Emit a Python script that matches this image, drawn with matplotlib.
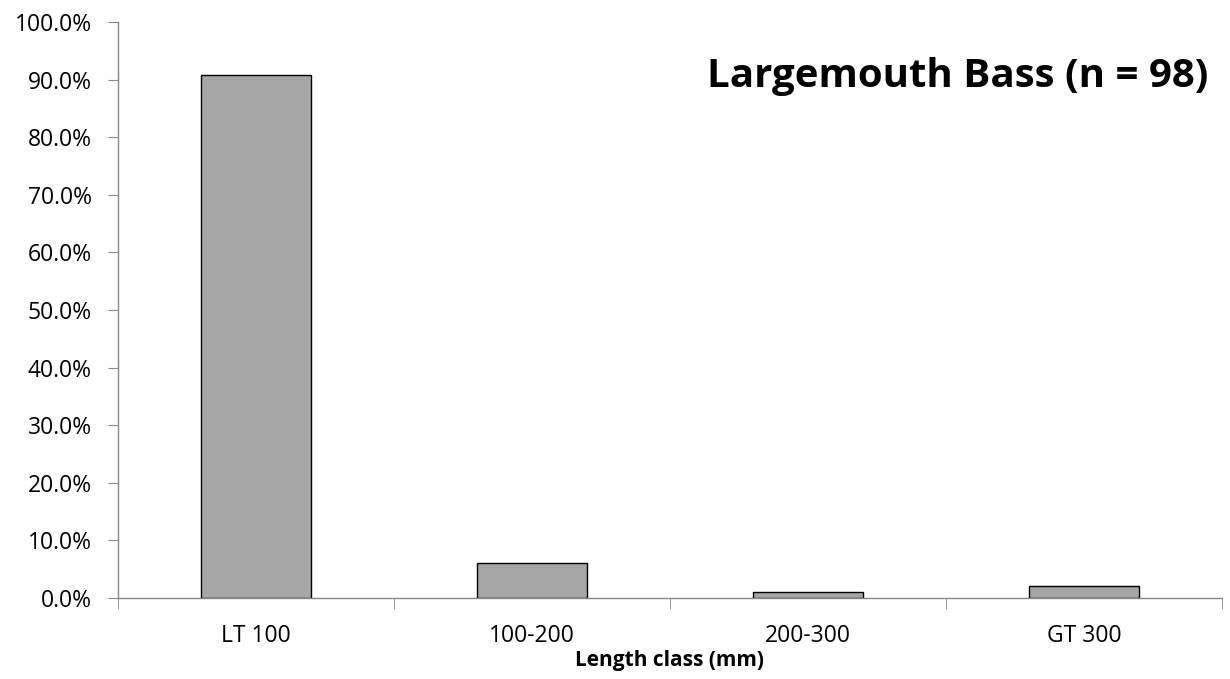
import matplotlib.pyplot as plt
from matplotlib.ticker import PercentFormatter, FixedLocator

plt.rcParams["font.family"] = ["Open Sans", "DejaVu Sans"]

classes = ["LT 100", "100-200", "200-300", "GT 300"]
percent = [90.8, 6.1, 1.0, 2.0]

fig = plt.figure(figsize=(12.3, 6.79), dpi=100)
ax = fig.add_axes([0.0959, 0.1193, 0.8976, 0.8483])

x = list(range(len(classes)))
ax.bar(x, percent, width=0.4, color="#a6a6a6", edgecolor="black", linewidth=1)

ax.set_xlim(-0.5, len(classes) - 0.5)
ax.set_ylim(0, 100)
ax.set_yticks(range(0, 101, 10))
ax.yaxis.set_major_formatter(PercentFormatter(decimals=1))
ax.set_xticks(x)
ax.set_xticklabels(classes)
ax.xaxis.set_minor_locator(FixedLocator([i - 0.5 for i in range(len(classes) + 1)]))

for s in ["top", "right"]:
    ax.spines[s].set_visible(False)
for s in ["left", "bottom"]:
    ax.spines[s].set_color("#868686")
    ax.spines[s].set_linewidth(1)

ax.tick_params(axis="y", length=7, color="#868686", labelsize=16.5, pad=12)
ax.tick_params(axis="x", which="major", length=0, labelsize=16.5, pad=19)
ax.tick_params(axis="x", which="minor", length=8, color="#868686")

ax.set_xlabel("Length class (mm)", fontsize=15, fontweight="bold", labelpad=1)

ax.text(0.988, 0.905, "Largemouth Bass (n = 98)", transform=ax.transAxes,
        ha="right", va="center", fontsize=29, fontweight="bold")

fig.savefig("out.png", dpi=100)
